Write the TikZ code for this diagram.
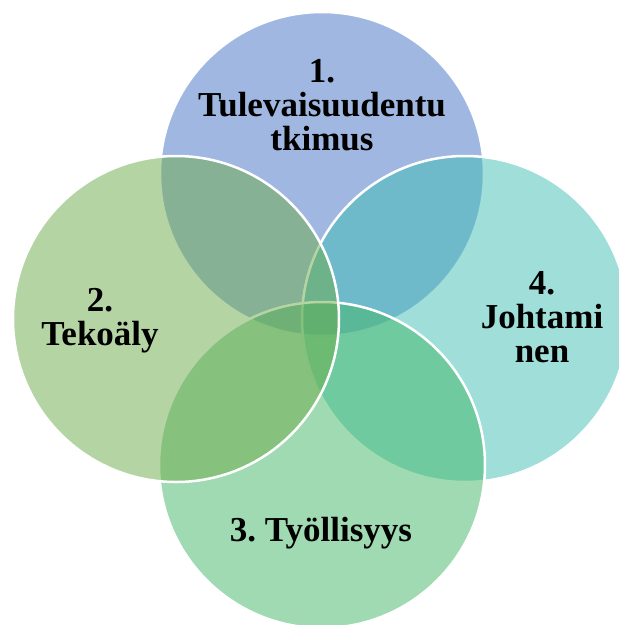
\documentclass[tikz,border=0pt]{standalone}
\usepackage{fontspec}
\setmainfont{Liberation Serif}
\definecolor{cTop}{RGB}{66,113,196}
\definecolor{cLeft}{RGB}{108,170,74}
\definecolor{cRight}{RGB}{64,190,180}
\definecolor{cBottom}{RGB}{66,182,101}
\begin{document}
\frenchspacing
\begin{tikzpicture}[x=1pt,y=-1pt,
  venn/.style={draw=white, line width=2.5pt, fill opacity=0.5},
  lbl/.style={font=\fontsize{35}{34}\selectfont\bfseries, align=center, inner sep=0pt, text=black, anchor=base}]
\useasboundingbox (0,0) rectangle (619,625);
\clip (0,0) rectangle (619,625);
\path[venn, fill=cTop]    (322,174) circle[radius=162pt];
\path[venn, fill=cRight]  (465,319) circle[radius=163pt];
\path[venn, fill=cBottom] (322,465) circle[radius=163pt];
\path[venn, fill=cLeft]   (176,319) circle[radius=163pt];
\node[lbl] (l1) at (322,150) {1.\\Tulevaisuudentu\\tkimus};
\node[lbl] (l2) at (100,345) {2.\\Tekoäly};
\node[lbl] (l4) at (542,362) {4.\\Johtami\\nen};
\node[lbl] (l3) at (321,541) {3. Työllisyys};
\end{tikzpicture}
\end{document}
